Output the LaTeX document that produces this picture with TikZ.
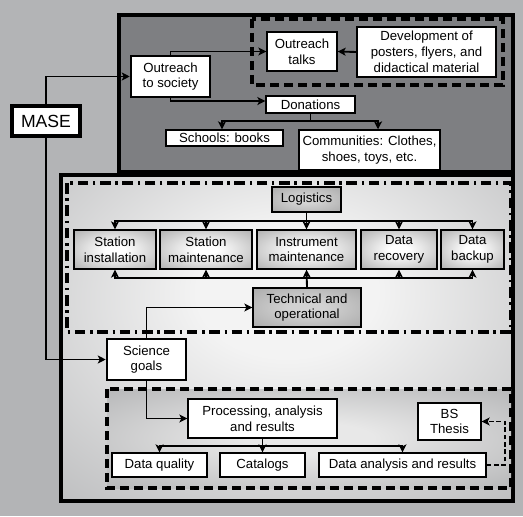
\documentclass[tikz,border=0pt]{standalone}
\usepackage{fontspec}
\setmainfont{Liberation Sans}
\usetikzlibrary{arrows.meta,calc}
\definecolor{bg}{HTML}{B3B4B6}
\definecolor{topfill}{HTML}{7E7F82}
\definecolor{edgegray}{HTML}{A6A7A9}
\definecolor{bright}{HTML}{F3F3F3}
\definecolor{boxedge}{HTML}{A0A0A0}
\definecolor{darkin}{HTML}{D2D2D2}
\definecolor{darkedge}{HTML}{9A9A9A}
\definecolor{lowin}{HTML}{E8E8E8}
\definecolor{lowedge}{HTML}{A0A1A3}
\pgfdeclareradialshading{bigglow}{\pgfpoint{0bp}{8bp}}{color(0bp)=(bright); color(10bp)=(bright); color(52bp)=(edgegray); color(80bp)=(edgegray)}
\pgfdeclareradialshading{boxglow}{\pgfpoint{0bp}{0bp}}{color(0bp)=(white); color(6bp)=(white); color(42bp)=(boxedge); color(75bp)=(boxedge)}
\pgfdeclareradialshading{darkglow}{\pgfpoint{0bp}{0bp}}{color(0bp)=(darkin); color(8bp)=(darkin); color(48bp)=(darkedge); color(75bp)=(darkedge)}
\pgfdeclareradialshading{lowglow}{\pgfpoint{0bp}{0bp}}{color(0bp)=(lowin); color(8bp)=(lowin); color(48bp)=(lowedge); color(75bp)=(lowedge)}
\tikzset{
  every node/.style={font=\fontsize{9.9}{11.8}\selectfont, align=center, inner sep=0pt},
  box/.style={draw, fill=white, line width=1pt},
  thickbox/.style={draw, fill=white, line width=1.9pt},
  glowbox/.style={draw, line width=1pt, shade, shading=boxglow},
  darkbox/.style={draw, line width=1pt, shade, shading=darkglow},
  wh/.style 2 args={minimum width=#1*0.75pt, minimum height=#2*0.75pt},
  conn/.style={line width=1.4pt, -{Stealth[length=6pt,width=6pt,inset=1.5pt]}},
  link/.style={line width=1.4pt},
  dashconn/.style={line width=1.4pt, dash pattern=on 3.5pt off 2pt, -{Stealth[length=6pt,width=6pt,inset=1.5pt]}},
  dashbox/.style={line width=2.7pt, dash pattern=on 7pt off 3.5pt},
  dotbox/.style={line width=2.7pt, dash pattern=on 8pt off 3.5pt on 1.8pt off 3.5pt},
  frame/.style={line width=2.7pt}
}
\begin{document}
\begin{tikzpicture}[x=0.75pt,y=-0.75pt]
\fill[bg] (0,0) rectangle (523,516);
\useasboundingbox (0,0) rectangle (523,516);

% containers
\draw[frame, fill=topfill] (119,15) rectangle (513,172);
\draw[dashbox] (252,19) rectangle (503,85);
\shade[shading=bigglow] (61,175) rectangle (513,501);
\draw[frame] (61,175) rectangle (513,501);
\draw[dotbox] (67,183) rectangle (511,332);
\shade[shading=lowglow] (107,389) rectangle (511,488);
\draw[dashbox] (107,389) rectangle (511,488);

% nodes
\node[draw, fill=white, line width=2.7pt, wh={68}{30}, font=\fontsize{13.2}{15}\selectfont] (mase) at (46,121) {MASE};
\node[thickbox, wh={79}{41}] (outsoc) at (170.5,76.5) {Outreach\\to society};
\node[box, wh={70}{39}] (talks) at (302,51.5) {Outreach\\talks};
\node[box, wh={139}{50}] (devel) at (426.5,52) {Development of\\posters, flyers, and\\didactical material};
\node[box, wh={89}{17}] (donations) at (310.5,104.5) {Donations};
\node[box, wh={117}{16}] (schools) at (224.5,138) {Schools: books};
\node[box, wh={141}{40}] (communities) at (369.5,150) {Communities: Clothes,\\shoes, toys, etc.};

\node[darkbox, wh={69}{25}] (logistics) at (306.5,199.5) {Logistics};
\node[glowbox, wh={82}{39}] (si) at (115,249.5) {Station\\installation};
\node[glowbox, wh={92}{39}] (sm) at (206,249.5) {Station\\maintenance};
\node[glowbox, wh={99}{39}] (im) at (306.5,249.5) {Instrument\\maintenance};
\node[glowbox, wh={76}{39}] (dr) at (399,249.5) {Data\\recovery};
\node[glowbox, wh={63}{39}] (db) at (472.5,249.5) {Data\\backup};
\node[darkbox, wh={108}{39}] (tech) at (307,307.5) {Technical and\\operational};

\node[thickbox, wh={79}{41}] (sci) at (146.5,359.5) {Science\\goals};
\node[box, wh={149}{39}] (proc) at (262.5,418.5) {Processing, analysis\\and results};
\node[box, wh={63}{37}] (bs) at (449.5,421.5) {BS\\Thesis};
\node[box, wh={95}{24}] (dq) at (159.5,465) {Data quality};
\node[box, wh={85}{24}] (cat) at (262.5,465) {Catalogs};
\node[box, wh={167}{24}] (dar) at (402.5,465) {Data analysis and results};

% junction coordinates
\coordinate (dsplit) at (310.5,121);
\coordinate (lbus) at (306.5,221);
\coordinate (tbus) at (307,278);
\coordinate (pbus) at (262.5,446);
\coordinate (bst) at (505,421.5);

% connectors
\draw[conn] (mase.north) |- (outsoc.west);
\draw[conn] (mase.south) |- (sci.west);
\draw[conn] (outsoc.north) |- (talks.west);
\draw[conn] (outsoc.south) |- ([yshift=2.6pt]donations.west);
\draw[conn] (devel.west) -- (talks.east);
\draw[link] (donations.south) -- (dsplit);
\draw[conn] (dsplit) -| ([xshift=-1.9pt]schools.north);
\draw[conn] (dsplit) -| ([xshift=6.4pt]communities.north);

\draw[conn] (logistics.south) -- (im.north);
\draw[conn] (lbus) -| (si.north);
\draw[conn] (lbus) -| (sm.north);
\draw[conn] (lbus) -| (dr.north);
\draw[conn] (lbus) -| (db.north);
\draw[conn] (tech.north) -- (im.south);
\draw[conn] (tbus) -| (si.south);
\draw[conn] (tbus) -| (sm.south);
\draw[conn] (tbus) -| (dr.south);
\draw[conn] (tbus) -| (db.south);

\draw[conn] (sci.north) |- (tech.west);
\draw[conn] (sci.south) |- (proc.west);
\draw[link] (proc.south) -- (pbus);
\draw[conn] (pbus) -| (dq.north);
\draw[conn] (pbus) -- (cat.north);
\draw[conn] (pbus) -| (dar.north);
\draw[dashconn] (dar.east) -| (bst) -- (bs.east);
\end{tikzpicture}
\end{document}
